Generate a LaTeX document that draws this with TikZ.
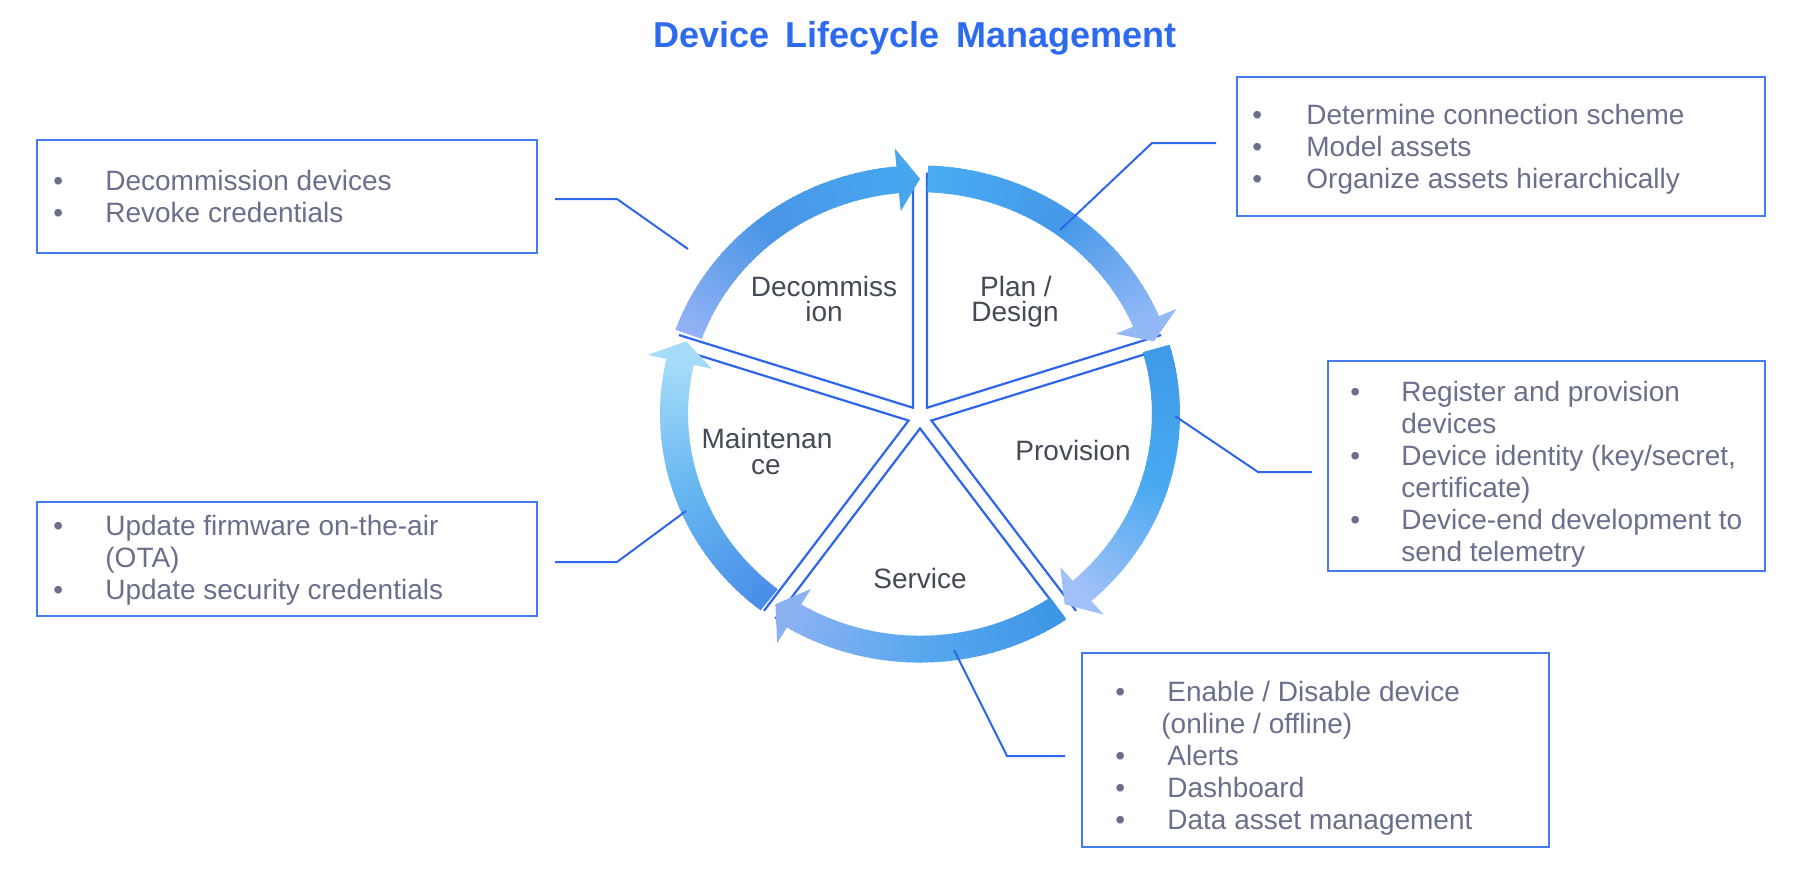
\documentclass[tikz,border=0pt]{standalone}
\usepackage{fontspec}
\setmainfont{Liberation Sans}
\usetikzlibrary{calc}
\definecolor{titleblue}{RGB}{44,106,240}
\definecolor{boxblue}{RGB}{68,124,240}
\definecolor{lineblue}{RGB}{45,102,236}
\definecolor{bodytext}{RGB}{107,111,140}
\definecolor{labeltext}{RGB}{68,74,86}
% ring colours
\definecolor{dcA}{RGB}{147,178,245}\definecolor{dcB}{RGB}{74,150,230}\definecolor{dcC}{RGB}{70,166,238}
\definecolor{plA}{RGB}{74,172,242}\definecolor{plB}{RGB}{68,153,232}\definecolor{plC}{RGB}{146,184,246}
\definecolor{prA}{RGB}{63,154,232}\definecolor{prB}{RGB}{72,169,241}\definecolor{prC}{RGB}{160,192,247}
\definecolor{svA}{RGB}{61,150,230}\definecolor{svB}{RGB}{87,167,238}\definecolor{svC}{RGB}{138,178,243}
\definecolor{mtA}{RGB}{74,142,232}\definecolor{mtB}{RGB}{102,182,241}\definecolor{mtC}{RGB}{165,220,249}
% #1 start angle, #2 arrow base angle, #3 tip angle, #4..#6 colours
\newcommand\ringseg[6]{%
  \pgfmathsetmacro\rgA{#1}\pgfmathsetmacro\rgB{#2}\pgfmathsetmacro\rgM{(\rgA+\rgB)/2}%
  \foreach \rgi in {0,...,23}{%
    \pgfmathsetmacro\rgTa{\rgA+(\rgM-\rgA)*\rgi/24}%
    \pgfmathsetmacro\rgTb{\rgA+(\rgM-\rgA)*(\rgi+1.4)/24}%
    \pgfmathtruncatemacro\rgP{100*\rgi/23}%
    \fill[#5!\rgP!#4] (\rgTa:232) -- (\rgTa:260) -- (\rgTb:260) -- (\rgTb:232) -- cycle;
  }%
  \foreach \rgi in {0,...,23}{%
    \pgfmathsetmacro\rgTa{\rgM+(\rgB-\rgM)*\rgi/24}%
    \pgfmathsetmacro\rgTb{\rgM+(\rgB-\rgM)*(\rgi+1.4)/24}%
    \pgfmathtruncatemacro\rgP{100*\rgi/23}%
    \fill[#6!\rgP!#5] (\rgTa:232) -- (\rgTa:260) -- (\rgTb:260) -- (\rgTb:232) -- cycle;
  }%
  \fill[#6] (\rgB:213) -- (\rgB:279) -- (#3:246) -- cycle;
}
\newcommand\blist[2]{{\fontsize{14pt}{16pt}\selectfont\begin{tabular}[t]{@{}p{#1}@{}l@{}}#2\end{tabular}}}
\begin{document}
\begin{tikzpicture}[x=0.5pt,y=-0.5pt,
  titletext/.style={font=\fontsize{18pt}{20pt}\selectfont\bfseries, text=titleblue, inner sep=0pt, anchor=base},
  infobox/.style={draw=boxblue, line width=1pt, inner sep=0pt},
  bodylist/.style={text=bodytext, inner sep=0pt, anchor=base west},
  seclabel/.style={font=\fontsize{14pt}{16pt}\selectfont, text=labeltext, inner sep=0pt, anchor=base},
  spokeline/.style={draw=lineblue, line width=1.1pt},
  leader/.style={draw=lineblue, line width=1pt}]
\useasboundingbox (0,0) rectangle (1798,872);
\fill[white] (0,0) rectangle (1798,872);

% title
\node[titletext] (title) at (915,48) {Device\hspace{0.45em}Lifecycle\hspace{0.45em}Management};

% sectors (spokes)
\begin{scope}[shift={(920,417)}, x=0.5pt, y=0.478pt]
  \foreach \b in {54,-18,-90,-162,126}{
    \pgfmathsetmacro\ea{\b+36}\pgfmathsetmacro\eb{\b-36}
    \draw[spokeline, shift={(\b:12)}] (\ea:246) -- (0,0) -- (\eb:246);
  }
\end{scope}

% ring
\begin{scope}[shift={(920,414)}, x=0.5pt, y=0.478pt]
  \ringseg{88.2}{23.2}{18}{plA}{plB}{plC}
  \ringseg{16.2}{-48.8}{-54}{prA}{prB}{prC}
  \ringseg{-55.8}{-120.8}{-126}{svA}{svB}{svC}
  \ringseg{-127.8}{-192.8}{-198}{mtA}{mtB}{mtC}
  \ringseg{160.2}{95.2}{90}{dcA}{dcB}{dcC}
\end{scope}

% sector labels
\node[seclabel] (decA) at (824,296) {Decommiss};
\node[seclabel] (decB) at (824,321) {ion};
\node[seclabel] (planA) at (1016,296) {Plan /};
\node[seclabel] (planB) at (1015,321) {Design};
\node[seclabel] (prov) at (1073,460) {Provision};
\node[seclabel] (mainA) at (767,448) {Maintenan};
\node[seclabel] (mainB) at (766,474) {ce};
\node[seclabel] (serv) at (920,588) {Service};

% boxes
\node[infobox, minimum width=250pt, minimum height=56.5pt] (box1) at (287,196.5) {};
\node[infobox, minimum width=264pt, minimum height=69.5pt] (box2) at (1501,146.5) {};
\node[infobox, minimum width=218.5pt, minimum height=105pt] (box3) at (1546.5,466) {};
\node[infobox, minimum width=233.5pt, minimum height=97pt] (box4) at (1315.5,750) {};
\node[infobox, minimum width=250pt, minimum height=57pt] (box5) at (287,559) {};

% box texts
\node[bodylist] (txt1) at (53,191) {\blist{26pt}{• & Decommission devices\\ • & Revoke credentials}};
\node[bodylist] (txt2) at (1252,125) {\blist{27pt}{• & Determine connection scheme\\ • & Model assets\\ • & Organize assets hierarchically}};
\node[bodylist] (txt3) at (1350,401) {\blist{25.5pt}{• & Register and provision\\ & devices\\ • & Device identity (key/secret,\\ & certificate)\\ • & Device-end development to\\ & send telemetry}};
\node[bodylist] (txt4) at (1115,701) {\blist{26pt}{• & Enable / Disable device\\ & \hspace{-3pt}(online / offline)\\ • & Alerts\\ • & Dashboard\\ • & Data asset management}};
\node[bodylist] (txt5) at (53,535) {\blist{26pt}{• & Update firmware on-the-air\\ & (OTA)\\ • & Update security credentials}};

% leader lines
\coordinate (l1a) at (555,199); \coordinate (l1b) at (617,199); \coordinate (l1c) at (688,249);
\coordinate (l2a) at (1216,143); \coordinate (l2b) at (1152,143); \coordinate (l2c) at (1060,230);
\coordinate (l3a) at (1312,472); \coordinate (l3b) at (1258,472); \coordinate (l3c) at (1175,416);
\coordinate (l4a) at (1065,756); \coordinate (l4b) at (1007,756); \coordinate (l4c) at (954,650);
\coordinate (l5a) at (555,562); \coordinate (l5b) at (617,562); \coordinate (l5c) at (686,511);
\draw[leader] (l1a) -- (l1b) -- (l1c);
\draw[leader] (l2a) -- (l2b) -- (l2c);
\draw[leader] (l3a) -- (l3b) -- (l3c);
\draw[leader] (l4a) -- (l4b) -- (l4c);
\draw[leader] (l5a) -- (l5b) -- (l5c);
\end{tikzpicture}
\end{document}
